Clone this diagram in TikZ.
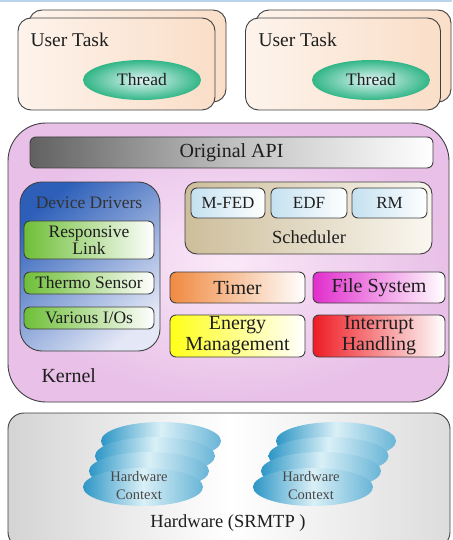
\documentclass[tikz,border=0pt]{standalone}
\usepackage{fontspec}
\setmainfont{Liberation Serif}
\newfontfamily\tnr{Liberation Serif}
\usetikzlibrary{shapes.geometric}
\definecolor{peach}{RGB}{250,222,200}
\definecolor{edge}{RGB}{64,64,64}
\definecolor{thr}{RGB}{50,182,135}
\definecolor{thrl}{RGB}{225,245,244}
\definecolor{kern}{RGB}{232,192,232}
\definecolor{kernl}{RGB}{250,232,248}
\definecolor{ddb}{RGB}{45,95,185}
\definecolor{ddl}{RGB}{228,232,246}
\definecolor{grn}{RGB}{110,190,55}
\definecolor{sch}{RGB}{205,190,155}
\definecolor{schl}{RGB}{250,247,240}
\definecolor{lb}{RGB}{196,225,240}
\definecolor{org}{RGB}{240,138,65}
\definecolor{mag}{RGB}{225,45,205}
\definecolor{yel}{RGB}{255,255,25}
\definecolor{rd}{RGB}{238,28,35}
\definecolor{hwg}{RGB}{212,212,212}
\definecolor{hc}{RGB}{45,150,198}
\definecolor{hcl}{RGB}{218,240,247}
\definecolor{strip}{RGB}{185,212,235}
\definecolor{txt}{RGB}{30,30,30}
\begin{document}
\begin{tikzpicture}[x=1pt,y=-1pt,
  box/.style={draw=edge, line width=0.9pt, inner sep=0pt, align=center, text=txt},
  big/.style={font=\tnr\fontsize{20}{21}\selectfont, text=txt},
  small/.style={font=\tnr\fontsize{14.5}{18}\selectfont, text=black!72, align=center},
  sub/.style={box, rounded corners=6pt, font=\tnr\fontsize{17.5}{17.5}\selectfont},
  task/.style={box, rounded corners=13pt, left color=peach!35!white, right color=peach, minimum width=197, minimum height=92},
  thread/.style={ellipse, inner sep=0pt, inner color=thrl, outer color=thr, minimum width=118, minimum height=40, font=\tnr\fontsize{17.5}{18}\selectfont, text=txt},
  hctx/.style={ellipse, inner sep=0pt, left color=hc, right color=hc!65!hcl, middle color=hcl, minimum width=120, minimum height=38},
]
\useasboundingbox (0,0) rectangle (452,540);
\clip (0,0) rectangle (452,540);
\fill[white] (0,0) rectangle (452,540);
\fill[strip] (0,0) rectangle (452,2.5);

% user tasks
\node[task] (ut1b) at (127.5,56) {};
\node[task] (ut1) at (116.5,64) {};
\node[big, font=\tnr\fontsize{19.5}{20}\selectfont, anchor=west] (ut1l) at (27,40) {User Task};
\node[thread] (th1) at (142,80) {Thread};
\node[task, minimum width=195] (ut2b) at (353.5,56) {};
\node[task, minimum width=195] (ut2) at (343,64) {};
\node[big, font=\tnr\fontsize{19.5}{20}\selectfont, anchor=west] (ut2l) at (255,40) {User Task};
\node[thread] (th2) at (371,80) {Thread};

% kernel
\node[box, rounded corners=38pt, inner color=kernl, outer color=kern, minimum width=441, minimum height=279] (kernel) at (228.5,262.5) {};
\node[big, anchor=west] (kl) at (38,376) {Kernel};
\node[box, rounded corners=6pt, left color=black!62, right color=white, middle color=black!25, minimum width=403, minimum height=31, big] (api) at (231.5,152.5) {Original API};

% device drivers
\node[box, rounded corners=22pt, top color=ddb, bottom color=ddl, shading angle=40, minimum width=140, minimum height=169] (dd) at (90,266.5) {};
\node[font=\tnr\fontsize{17.5}{18}\selectfont, text=black!80] (ddl) at (89,203) {Device Drivers};
\node[sub, left color=grn, right color=white, minimum width=130, minimum height=38] (rl) at (89,240) {Responsive\\Link};
\node[sub, left color=grn, right color=white, minimum width=130, minimum height=22] (ts) at (89,283) {Thermo Sensor};
\node[sub, left color=grn, right color=white, minimum width=130, minimum height=22] (vio) at (89,318) {Various I/Os};

% scheduler
\node[box, rounded corners=12pt, left color=sch, right color=schl, minimum width=247, minimum height=72] (sched) at (308.5,218) {};
\node[font=\tnr\fontsize{18.5}{19}\selectfont, text=txt] (schl) at (309,237.5) {Scheduler};
\node[sub, font=\tnr\fontsize{17}{17}\selectfont, left color=lb, right color=white, minimum width=74, minimum height=30] (mfed) at (228,203) {M-FED};
\node[sub, font=\tnr\fontsize{17}{17}\selectfont, left color=lb, right color=white, minimum width=76, minimum height=30] (edf) at (309,203) {EDF};
\node[sub, font=\tnr\fontsize{17}{17}\selectfont, left color=lb, right color=white, minimum width=75, minimum height=30] (rm) at (389.5,203) {RM};

% other kernel blocks
\node[sub, font=\tnr\fontsize{20}{21}\selectfont, left color=org, right color=white, minimum width=135, minimum height=31] (timer) at (237.5,287.5) {Timer};
\node[sub, font=\tnr\fontsize{20}{21}\selectfont, left color=mag, right color=white, minimum width=132, minimum height=31] (fs) at (379,287.5) {File System};
\node[sub, font=\tnr\fontsize{20}{21}\selectfont, left color=yel, right color=white, minimum width=135, minimum height=42] (em) at (237.5,336) {Energy\\Management};
\node[sub, font=\tnr\fontsize{20}{21}\selectfont, left color=rd, right color=white, minimum width=132, minimum height=42] (ih) at (379,336) {Interrupt\\Handling};

% hardware
\node[box, rounded corners=16pt, left color=hwg, right color=hwg!80, middle color=white, minimum width=442, minimum height=135] (hw) at (229,480.5) {};
\node[font=\tnr\fontsize{18.5}{20}\selectfont, text=txt] (hwl) at (228,523) {Hardware (SRMTP )};

\node[hctx] (hc1a) at (161,441) {};
\node[hctx] (hc1b) at (155,456) {};
\node[hctx] (hc1c) at (149,471) {};
\node[hctx] (hc1d) at (143,487) {};
\node[small] (hc1t) at (139,486) {Hardware\\Context};

\node[hctx] (hc2a) at (336,441) {};
\node[hctx] (hc2b) at (328.5,456) {};
\node[hctx] (hc2c) at (321,471) {};
\node[hctx] (hc2d) at (313,487) {};
\node[small] (hc2t) at (311,486) {Hardware\\Context};
\end{tikzpicture}
\end{document}
